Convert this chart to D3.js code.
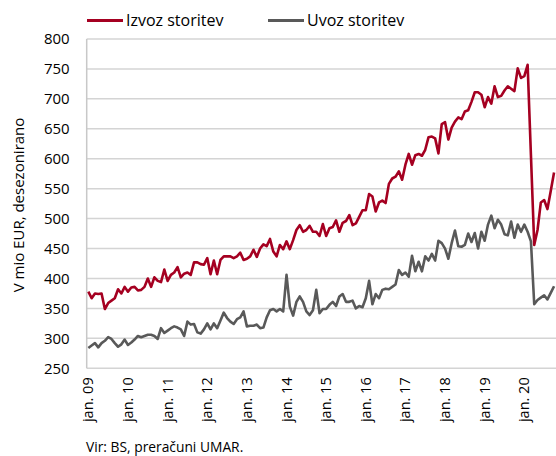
<!DOCTYPE html>
<html><head><meta charset="utf-8">
<script src="https://cdn.jsdelivr.net/npm/d3@7"></script>
<style>
body{margin:0;background:#fff;}
text{font-family:"Open Sans",sans-serif;fill:#000;}
</style></head>
<body><svg id="c" width="556" height="456"></svg>
<script>
const tickLabels = ["jan. 09","jan. 10","jan. 11","jan. 12","jan. 13","jan. 14","jan. 15","jan. 16","jan. 17","jan. 18","jan. 19","jan. 20"];
const yTicks = [250,300,350,400,450,500,550,600,650,700,750,800];
const seriesNames = ["Izvoz storitev","Uvoz storitev"];
const izvoz = [378,367,375,374,375,349,359,363,367,382,375,386,378,385,386,380,381,386,400,386,
402,396,394,415,396,406,410,419,402,408,410,406,427,427,424,423,434,407,430,407,
431,437,437,437,434,437,443,431,433,437,448,436,450,457,454,466,445,437,456,449,
462,449,464,481,489,478,481,488,478,478,471,491,471,484,486,497,478,493,496,506,
489,492,503,514,514,541,537,512,527,530,526,558,567,570,579,565,590,608,590,606,
608,605,615,636,637,634,609,658,661,632,652,662,669,666,679,681,695,711,711,707,
686,703,692,721,703,705,714,721,717,713,751,735,738,757,606,456,481,527,531,516,
546,577];
const uvoz = [284,288,292,285,292,296,302,299,292,286,290,298,289,293,298,304,302,304,306,306,
304,299,317,309,313,317,320,318,315,304,328,323,324,310,308,315,325,315,325,317,
330,343,334,328,324,332,335,345,320,321,321,323,317,318,335,347,349,345,349,345,
406,353,338,361,370,361,345,339,347,381,342,349,349,356,361,354,370,374,361,361,
363,350,354,352,367,396,357,374,367,381,383,382,386,390,414,406,410,403,438,412,
428,412,437,430,441,430,463,459,450,433,459,480,454,453,456,475,461,476,450,478,
463,490,505,484,498,490,474,472,495,468,490,478,490,478,462,357,364,368,372,365,
376,387];
const colors = ["#A50021","#595959"];

const svg = d3.select("#c");
const L = 86.7, R = 555.7, T = 39, B = 368.3;
const N = izvoz.length;
const x = d3.scaleBand().domain(d3.range(N)).range([L, R]);
const xc = i => x(i) + x.bandwidth()/2;
const y = d3.scaleLinear().domain([250, 800]).range([B, T]);

// gridlines
svg.append("g").selectAll("line").data(yTicks).join("line")
  .attr("x1", L).attr("x2", R + 1).attr("y1", d => y(d)).attr("y2", d => y(d))
  .attr("stroke", "#d4d4d4").attr("stroke-width", 1.5);
svg.append("line").attr("x1", L).attr("x2", L).attr("y1", T).attr("y2", B)
  .attr("stroke", "#c8c8c8").attr("stroke-width", 1.5);

// y axis labels
const yAxis = d3.axisLeft(y).tickValues(yTicks).tickSize(0).tickPadding(0);
const gy = svg.append("g").attr("transform", `translate(${L - 17},0)`).call(yAxis);
gy.select(".domain").remove();
gy.selectAll("text").attr("font-size", 15).attr("font-family", "Open Sans").attr("fill", "#000");

// x axis labels
const xAxis = d3.axisBottom(x).tickValues(d3.range(0, N, 12)).tickSize(0)
  .tickFormat(i => tickLabels[i / 12]);
const gx = svg.append("g").attr("transform", `translate(0,${B})`).call(xAxis);
gx.select(".domain").remove();
gx.selectAll("text").attr("font-size", 14.5).attr("font-family", "Open Sans").attr("fill", "#000")
  .attr("text-anchor", "end").attr("transform", "rotate(-90)")
  .attr("x", -9).attr("y", 0).attr("dy", "0.35em");

// lines
const line = d3.line().x((d, i) => xc(i)).y(d => y(d));
[izvoz, uvoz].slice().reverse().forEach((s, k) => {
  const idx = 1 - k;
  svg.append("path").datum(s).attr("d", line).attr("fill", "none")
    .attr("stroke", colors[idx]).attr("stroke-width", 2.6).attr("stroke-linejoin", "round");
});

// legend
const lx = [87, 268];
seriesNames.forEach((n, i) => {
  svg.append("line").attr("x1", lx[i]).attr("x2", lx[i] + 36).attr("y1", 20.5).attr("y2", 20.5)
    .attr("stroke", colors[i]).attr("stroke-width", 3);
  svg.append("text").attr("x", lx[i] + 39).attr("y", 26).attr("font-size", 16).text(n);
});

// y title
svg.append("text").attr("transform", "translate(24,205) rotate(-90)")
  .attr("text-anchor", "middle").attr("font-size", 15).text("V mio EUR, desezonirano");

// source
svg.append("text").attr("x", 86).attr("y", 452).attr("font-size", 13.8).text("Vir: BS, preračuni UMAR.");
</script></body></html>
